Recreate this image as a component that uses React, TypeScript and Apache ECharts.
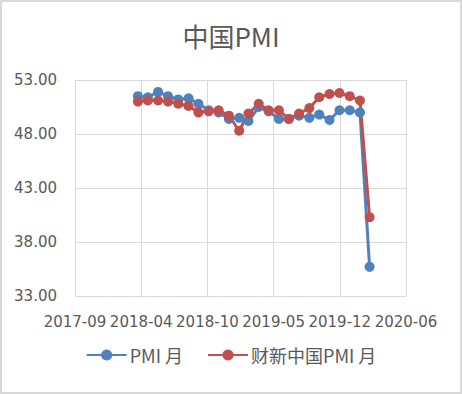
import React, { useEffect, useRef } from "react";
import * as echarts from "echarts";

const months = [
  "2018-03", "2018-04", "2018-05", "2018-06", "2018-07", "2018-08", "2018-09", "2018-10",
  "2018-11", "2018-12", "2019-01", "2019-02", "2019-03", "2019-04", "2019-05", "2019-06",
  "2019-07", "2019-08", "2019-09", "2019-10", "2019-11", "2019-12", "2020-01", "2020-02",
];
const pmiValues = [
  51.5, 51.4, 51.9, 51.5, 51.2, 51.3, 50.8, 50.2, 50.0, 49.4, 49.5, 49.2,
  50.5, 50.1, 49.4, 49.4, 49.7, 49.5, 49.8, 49.3, 50.2, 50.2, 50.0, 35.7,
];
const caixinValues = [
  51.0, 51.1, 51.1, 51.0, 50.8, 50.6, 50.0, 50.1, 50.2, 49.7, 48.3, 49.9,
  50.8, 50.2, 50.2, 49.4, 49.9, 50.4, 51.4, 51.7, 51.8, 51.5, 51.1, 40.3,
];
const seriesNames = ["PMI 月", "财新中国PMI 月"];
const title = "中国PMI";

const EXCEL_EPOCH = Date.UTC(1899, 11, 30);
const DAY = 86400000;
// month-end date of "YYYY-MM" as Excel serial day number
function monthEndSerial(m: string): number {
  const [y, mo] = m.split("-").map(Number);
  return Math.round((Date.UTC(y, mo, 0) - EXCEL_EPOCH) / DAY);
}
function serialLabel(v: number): string {
  const d = new Date(EXCEL_EPOCH + v * DAY);
  const mm = String(d.getUTCMonth() + 1).padStart(2, "0");
  return `${d.getUTCFullYear()}-${mm}`;
}

const FONT = "'Noto Sans CJK SC', 'Noto Sans', sans-serif";
const AXIS_FONT = "'DejaVu Sans', 'Noto Sans CJK SC', sans-serif";
const TEXT = "#595959";
const GRID = "#d9d9d9";

export default function App() {
  const ref = useRef<HTMLDivElement>(null);
  useEffect(() => {
    if (!ref.current) return;
    const chart = echarts.init(ref.current, undefined, { renderer: "svg" });
    const xs = months.map(monthEndSerial);
    chart.setOption({
      animation: false,
      backgroundColor: "#ffffff",
      title: {
        text: title,
        left: "center",
        top: 17,
        textStyle: { fontFamily: FONT, fontSize: 26, fontWeight: "normal", color: TEXT },
      },
      legend: {
        bottom: 25,
        left: "center",
        itemWidth: 40,
        itemHeight: 14,
        itemGap: 24,
        textStyle: { fontFamily: FONT, fontSize: 18, color: TEXT, padding: [0, 0, 0, -2] },
        data: seriesNames,
      },
      grid: { left: 75, right: 56, top: 80, bottom: 98, containLabel: false },
      xAxis: {
        type: "value",
        min: 43000,
        max: 44000,
        interval: 200,
        axisLine: { show: false },
        axisTick: { show: false },
        splitLine: { show: true, lineStyle: { color: GRID, width: 1 } },
        axisLabel: {
          margin: 18,
          fontFamily: AXIS_FONT,
          fontSize: 15,
          color: TEXT,
          formatter: (v: number) => serialLabel(v),
        },
      },
      yAxis: {
        type: "value",
        min: 33,
        max: 53,
        interval: 5,
        axisLine: { show: false },
        axisTick: { show: false },
        splitLine: { show: true, lineStyle: { color: GRID, width: 1 } },
        axisLabel: {
          margin: 18,
          fontFamily: AXIS_FONT,
          fontSize: 15,
          color: TEXT,
          formatter: (v: number) => v.toFixed(2),
        },
      },
      series: [
        {
          name: seriesNames[0],
          type: "line",
          data: xs.map((x, i) => [x, pmiValues[i]]),
          symbol: "circle",
          symbolSize: 10,
          lineStyle: { color: "#4F81BD", width: 3 },
          itemStyle: { color: "#4F81BD" },
        },
        {
          name: seriesNames[1],
          type: "line",
          data: xs.map((x, i) => [x, caixinValues[i]]),
          symbol: "circle",
          symbolSize: 10,
          lineStyle: { color: "#C0504D", width: 3 },
          itemStyle: { color: "#C0504D" },
        },
      ],
      graphic: [
        {
          type: "rect",
          shape: { x: 1, y: 1, width: 460, height: 392 },
          style: { fill: "none", stroke: GRID, lineWidth: 2 },
          silent: true,
        },
      ],
    });
    return () => chart.dispose();
  }, []);
  return (
    <div
      ref={ref}
      style={{ position: "absolute", left: 0, top: 0, width: 462, height: 394 }}
    />
  );
}
